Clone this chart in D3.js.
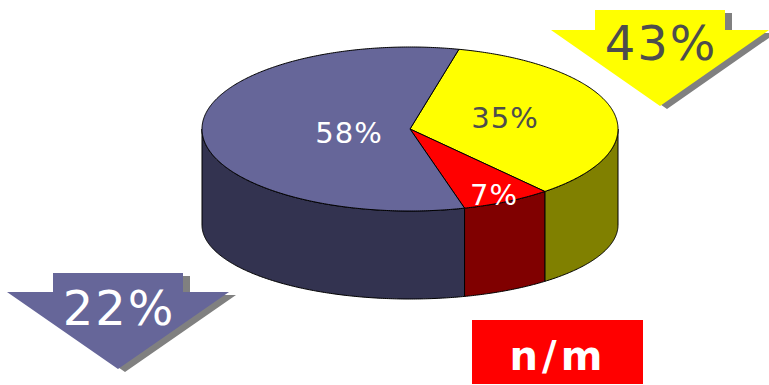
<!DOCTYPE html>
<html><head><meta charset="utf-8">
<script src="https://cdn.jsdelivr.net/npm/d3@7"></script>
<style>html,body{margin:0;padding:0;background:#fff;}svg{display:block;}</style>
</head><body><svg id="c" width="769" height="385"></svg>
<script>
const categories = ["Yellow", "Red", "Blue"];
const values = [35, 7, 58];
const sliceLabels = ["35%", "7%", "58%"];
const arrowLabels = ["43%", "22%"];
const boxLabel = "n/m";

const topColors = {Yellow: "#ffff00", Red: "#ff0000", Blue: "#666699"};
const sideColors = {Yellow: "#808000", Red: "#800000", Blue: "#333350"};
const labelColors = {Yellow: "#4d4d4d", Red: "#ffffff", Blue: "#ffffff"};

const svg = d3.select("#c");
const font = "'DejaVu Sans', Verdana, sans-serif";

// ellipse geometry
const cx = 410, cyTop = 129, rx = 208, ryTop = 82, cyBot = 225, ryBot = 74;
const start = 13.6 * Math.PI / 180;
const pie = d3.pie().sort(null).startAngle(start).endAngle(start + 2 * Math.PI);
const arcs = pie(values).map((d, i) => ({...d, cat: categories[i], label: sliceLabels[i]}));

function pt(a, cy, ry) { return [cx + rx * Math.sin(a), cy - ry * Math.cos(a)]; }
function samples(a0, a1, cy, ry) {
  const n = Math.max(2, Math.ceil(Math.abs(a1 - a0) / 0.01));
  return d3.range(n + 1).map(k => pt(a0 + (a1 - a0) * k / n, cy, ry));
}
const line = d3.line();

// side walls (front half: PI/2 .. 3PI/2, also wrap)
const sideG = svg.append("g");
arcs.forEach(d => {
  [[Math.PI / 2, 3 * Math.PI / 2], [Math.PI / 2 + 2 * Math.PI, 3 * Math.PI / 2 + 2 * Math.PI]].forEach(([lo, hi]) => {
    const a0 = Math.max(d.startAngle, lo), a1 = Math.min(d.endAngle, hi);
    if (a1 <= a0) return;
    const pts = samples(a0, a1, cyTop, ryTop).concat(samples(a1, a0, cyBot, ryBot));
    sideG.append("path").attr("d", line(pts) + "Z")
      .attr("fill", sideColors[d.cat]).attr("stroke", "#000").attr("stroke-width", 1)
      .attr("stroke-linejoin", "round");
  });
});

// top faces
const topG = svg.append("g");
arcs.forEach(d => {
  const pts = [[cx, cyTop]].concat(samples(d.startAngle, d.endAngle, cyTop, ryTop));
  topG.append("path").attr("d", line(pts) + "Z")
    .attr("fill", topColors[d.cat]).attr("stroke", "#000").attr("stroke-width", 1)
    .attr("stroke-linejoin", "round");
});

// slice labels
const labelPos = {Yellow: [505, 128], Red: [494, 205], Blue: [349, 143]};
arcs.forEach(d => {
  const [x, y] = labelPos[d.cat];
  svg.append("text").attr("x", x).attr("y", y).attr("text-anchor", "middle")
    .attr("font-family", font).attr("font-size", 29).attr("letter-spacing", 1)
    .attr("fill", labelColors[d.cat]).text(d.label);
});

// arrows
function arrow(c, top, neck, tip, rHalf, hHalf, fill, txtColor, label, ty) {
  const shape = [[c - rHalf, top], [c + rHalf, top], [c + rHalf, neck], [c + hHalf, neck],
                 [c, tip], [c - hHalf, neck], [c - rHalf, neck]];
  const g = svg.append("g");
  g.append("path").attr("d", line(shape.map(p => [p[0] + 7, p[1] + 3])) + "Z").attr("fill", "#808080");
  g.append("path").attr("d", line(shape) + "Z").attr("fill", fill);
  g.append("text").attr("x", c + 1).attr("y", ty).attr("text-anchor", "middle")
    .attr("font-family", font).attr("font-size", 48).attr("letter-spacing", 2)
    .attr("fill", txtColor).text(label);
}
arrow(660, 10, 30, 106, 65, 109, "#ffff00", "#4d4d4d", arrowLabels[0], 60);
arrow(118, 273, 292, 369, 65, 111, "#666699", "#ffffff", arrowLabels[1], 325);

// n/m box
svg.append("rect").attr("x", 472).attr("y", 320).attr("width", 171).attr("height", 64).attr("fill", "#ff0000");
svg.append("text").attr("x", 558).attr("y", 370).attr("text-anchor", "middle")
  .attr("font-family", font).attr("font-weight", "bold").attr("font-size", 40).attr("letter-spacing", 4)
  .attr("fill", "#ffffff").text(boxLabel);
</script></body></html>
